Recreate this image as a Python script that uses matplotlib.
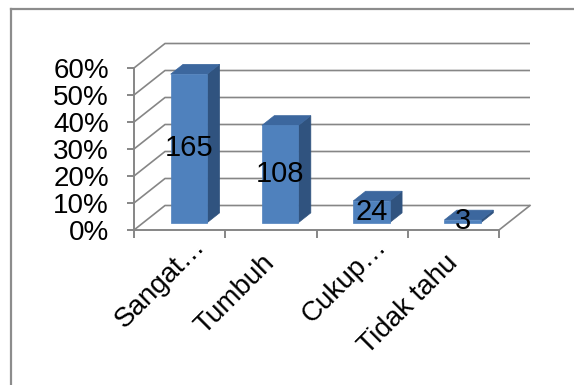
import numpy as np
import matplotlib
matplotlib.use("Agg")
import matplotlib.pyplot as plt
from matplotlib.patches import Polygon
from matplotlib.lines import Line2D
from matplotlib.transforms import offset_copy

plt.rcParams['font.family'] = ['Liberation Sans', 'DejaVu Sans']

# data
categories = ["Sangat…", "Tumbuh", "Cukup…", "Tidak tahu"]
counts = [165, 108, 24, 3]
yticks = [0, 10, 20, 30, 40, 50, 60]

total = sum(counts)
pct = [c / total * 100 for c in counts]

W, H = 574, 385
fig = plt.figure(figsize=(W / 100, H / 100), dpi=100)
# front plane of the 3d box
ax = fig.add_axes([134 / W, (H - 230) / H, 365 / W, 162 / H])
ax.set_xlim(0, len(categories))
ax.set_ylim(0, 60)
ax.axis('off')

# depth of the box in data units
DX = 31 / 91.25
DY = 24.5 / 2.7

def p(x, y, d):
    return (x + d * DX, y + d * DY)

grid_c = '#868686'
n = len(categories)
for v in yticks:
    ax.plot([0, DX, n + DX], [v, v + DY, v + DY], color=grid_c, lw=1.2,
            clip_on=False, zorder=1, solid_capstyle='butt')
# floor right edge, axes
ax.plot([n, n + DX], [0, DY], color=grid_c, lw=1.2, clip_on=False, zorder=1)
ax.plot([0, n], [0, 0], color=grid_c, lw=1.4, clip_on=False, zorder=1)
ax.plot([0, 0], [0, 60], color=grid_c, lw=1.4, clip_on=False, zorder=1)

# tick marks and labels
for v in yticks:
    ax.plot([0], [v], marker=0, markersize=5, color=grid_c, clip_on=False,
            markeredgewidth=1.4)
    ax.text(0, v, f"{v}%", transform=offset_copy(ax.transData, fig, x=-25, y=-3, units='dots'),
            ha='right', va='center', fontsize=20, color='black')
for i in range(n + 1):
    ax.plot([i], [0], marker=3, markersize=6, color=grid_c, clip_on=False,
            markeredgewidth=1.4)

front_c = '#4F81BD'
top_c = '#3C679E'
side_c = '#30537F'
d0, d1 = 0.3, 0.7
for i, v in enumerate(pct):
    x0, x1 = i + 0.3, i + 0.7
    front = [p(x0, 0, d0), p(x1, 0, d0), p(x1, v, d0), p(x0, v, d0)]
    top = [p(x0, v, d0), p(x1, v, d0), p(x1, v, d1), p(x0, v, d1)]
    side = [p(x1, 0, d0), p(x1, 0, d1), p(x1, v, d1), p(x1, v, d0)]
    for poly, c in [(side, side_c), (top, top_c), (front, front_c)]:
        ax.add_patch(Polygon(poly, closed=True, facecolor=c, edgecolor=c,
                             lw=0.5, clip_on=False, zorder=3))
    cx, cy = p(i + 0.5, v / 2, d0)
    ax.text(cx, cy, str(counts[i]), ha='center', va='center', fontsize=21,
            color='black', zorder=5)

for i, lab in enumerate(categories):
    if lab.endswith('…'):
        ox, oy = 26, -17
    else:
        ox, oy = 5, -34
    ax.text(i + 0.5, 0, lab, transform=offset_copy(ax.transData, fig, x=ox, y=oy, units='dots'),
            rotation=45, rotation_mode='anchor', ha='right', va='baseline',
            fontsize=20, color='black')

# outer border (left and top only visible)
fig.add_artist(Line2D([11 / W, 11 / W], [0, 1 - 9 / H], color='#8c8c8c', lw=1.6,
                      transform=fig.transFigure))
fig.add_artist(Line2D([11 / W, 1], [1 - 9 / H, 1 - 9 / H], color='#8c8c8c', lw=1.6,
                      transform=fig.transFigure))

fig.savefig('out.png', dpi=100)
